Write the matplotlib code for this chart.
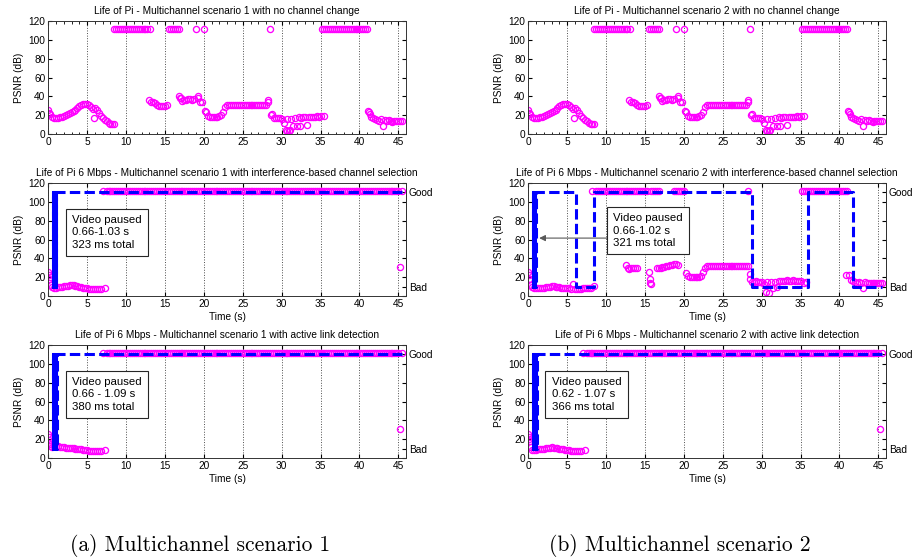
import matplotlib
matplotlib.use("Agg")
import matplotlib.pyplot as plt
import numpy as np

plt.rcParams["font.family"] = ["Liberation Sans", "DejaVu Sans"]
plt.rcParams["font.size"] = 7.3

STEP = 0.25  # spacing of the PSNR samples below, seconds

# PSNR (dB) every 0.25 s, no channel change (same trace in both scenarios)
psnr_no_change = [
    25, 21, 18, 17, 17, 17, 18, 18, 19, 20, 21, 22, 23, 24, 26, 28, 30, 31, 32, 32,
    32, 31, 29, 27, 28, 26, 22, 19, 17, 15, 14, 12, 11, 11, 111, 111, 111, 111, 111, 111,
    111, 111, 111, 111, 111, 111, 111, 111, 111, 111, 111, 111, 36, 34, 34, 33, 31, 30, 30, 30,
    30, 31, 111, 111, 111, 111, 111, 111, 38, 35, 36, 36, 37, 37, 36, 37, 111, 38, 34, 34,
    111, 23, 19, 18, 18, 18, 18, 18, 19, 20, 23, 29, 31, 31, 31, 31, 31, 31, 31, 31,
    31, 31, 31, 31, 31, 31, 31, 31, 31, 31, 31, 31, 31, 34, 111, 21, 17, 17, 17, 17,
    16, 12, 4, 16, 3, 16, 8, 17, 9, 18, 17, 18, 18, 10, 18, 18, 18, 18, 19, 18,
    19, 111, 111, 111, 111, 111, 111, 111, 111, 111, 111, 111, 111, 111, 111, 111, 111, 111, 111, 111,
    111, 111, 111, 111, 111, 23, 18, 17, 16, 15, 14, 16, 9, 15, 14, 15, 14, 13, 14, 14,
    14, 14, 14,
]
extra_no_change_t = [0.1, 5.9, 8.5, 13.1, 16.8, 16.9, 19.2, 20.2, 28.3, 28.6, 30.7, 31.1, 32.3, 35.5, 41.1, 41.3]
extra_no_change_v = [22, 17, 11, 111, 40, 38, 40, 24, 36, 20, 3, 4, 8, 19, 24, 21]

# scenario 1, interference-based channel selection
psnr_icsel_1 = [
    25, 20, 10, 9, 9, 10, 10, 10, 11, 11, 11, 12, 12, 12, 11, 11, 10, 10, 9, 9,
    8, 7, 7, 7, 7, 7, 7, 7, 111, 8, 111, 111, 111, 111, 111, 111, 111, 111, 111, 111,
    111, 111, 111, 111, 111, 111, 111, 111, 111, 111, 111, 111, 111, 111, 111, 111, 111, 111, 111, 111,
    111, 111, 111, 111, 111, 111, 111, 111, 111, 111, 111, 111, 111, 111, 111, 111, 111, 111, 111, 111,
    111, 111, 111, 111, 111, 111, 111, 111, 111, 111, 111, 111, 111, 111, 111, 111, 111, 111, 111, 111,
    111, 111, 111, 111, 111, 111, 111, 111, 111, 111, 111, 111, 111, 111, 111, 111, 111, 111, 111, 111,
    111, 111, 111, 111, 111, 111, 111, 111, 111, 111, 111, 111, 111, 111, 111, 111, 111, 111, 111, 111,
    111, 111, 111, 111, 111, 111, 111, 111, 111, 111, 111, 111, 111, 111, 111, 111, 111, 111, 111, 111,
    111, 111, 111, 111, 111, 111, 111, 111, 111, 111, 111, 111, 111, 111, 111, 111, 111, 111, 111, 111,
    111, 31, 111,
]
extra_icsel_1_t = [0.05, 0.15, 0.35]
extra_icsel_1_v = [22, 18, 12]

# scenario 1, active link detection
psnr_ald_1 = [
    25, 13, 12, 13, 13, 13, 12, 12, 12, 11, 11, 11, 11, 11, 10, 10, 10, 10, 9, 9,
    8, 7, 7, 7, 7, 7, 7, 7, 111, 8, 111, 111, 111, 111, 111, 111, 111, 111, 111, 111,
    111, 111, 111, 111, 111, 111, 111, 111, 111, 111, 111, 111, 111, 111, 111, 111, 111, 111, 111, 111,
    111, 111, 111, 111, 111, 111, 111, 111, 111, 111, 111, 111, 111, 111, 111, 111, 111, 111, 111, 111,
    111, 111, 111, 111, 111, 111, 111, 111, 111, 111, 111, 111, 111, 111, 111, 111, 111, 111, 111, 111,
    111, 111, 111, 111, 111, 111, 111, 111, 111, 111, 111, 111, 111, 111, 111, 111, 111, 111, 111, 111,
    111, 111, 111, 111, 111, 111, 111, 111, 111, 111, 111, 111, 111, 111, 111, 111, 111, 111, 111, 111,
    111, 111, 111, 111, 111, 111, 111, 111, 111, 111, 111, 111, 111, 111, 111, 111, 111, 111, 111, 111,
    111, 111, 111, 111, 111, 111, 111, 111, 111, 111, 111, 111, 111, 111, 111, 111, 111, 111, 111, 111,
    111, 31, 111,
]
extra_ald_1_t = [0.05, 0.15, 0.3]
extra_ald_1_v = [22, 19, 15]

# scenario 2, interference-based channel selection
psnr_icsel_2 = [
    25, 18, 10, 9, 9, 9, 9, 9, 9, 10, 10, 10, 11, 11, 10, 10, 10, 9, 9, 9,
    8, 8, 7, 13, 7, 7, 7, 7, 8, 8, 8, 8, 9, 111, 11, 111, 111, 111, 111, 111,
    111, 111, 111, 111, 111, 111, 111, 111, 111, 111, 111, 111, 111, 111, 111, 111, 111, 111, 111, 111,
    111, 111, 25, 111, 111, 111, 111, 111, 30, 31, 31, 32, 32, 33, 33, 111, 111, 111, 111, 111,
    111, 24, 21, 20, 20, 20, 20, 20, 20, 21, 25, 30, 32, 32, 32, 32, 32, 32, 32, 32,
    32, 32, 32, 32, 32, 32, 32, 32, 32, 32, 32, 32, 32, 111, 23, 15, 15, 16, 15, 15,
    15, 13, 4, 15, 3, 15, 8, 15, 10, 16, 16, 16, 16, 17, 16, 16, 17, 16, 16, 16,
    16, 111, 111, 111, 111, 111, 111, 111, 111, 111, 111, 111, 111, 111, 111, 111, 111, 111, 111, 111,
    111, 111, 111, 111, 111, 22, 17, 16, 15, 14, 15, 14, 8, 15, 14, 14, 14, 14, 14, 14,
    14, 14, 14,
]
extra_icsel_2_t = [0.05, 0.15, 0.35, 12.6, 12.8, 13.0, 13.25, 13.5, 13.75, 14.0, 15.6, 15.7, 15.8,
                   16.5, 16.75, 18.75, 19.0, 19.25, 28.3, 28.5, 35.5, 35.75, 40.9]
extra_icsel_2_v = [22, 18, 12, 33, 30, 29, 30, 30, 30, 30, 18, 14, 13,
                   30, 30, 34, 34, 33, 32, 18, 14, 15, 22]

# scenario 2, active link detection
psnr_ald_2 = [
    25, 18, 9, 9, 9, 10, 10, 10, 10, 11, 11, 11, 12, 11, 11, 11, 10, 10, 10, 9,
    8, 8, 7, 7, 7, 7, 7, 7, 111, 8, 111, 111, 111, 111, 111, 111, 111, 111, 111, 111,
    111, 111, 111, 111, 111, 111, 111, 111, 111, 111, 111, 111, 111, 111, 111, 111, 111, 111, 111, 111,
    111, 111, 111, 111, 111, 111, 111, 111, 111, 111, 111, 111, 111, 111, 111, 111, 111, 111, 111, 111,
    111, 111, 111, 111, 111, 111, 111, 111, 111, 111, 111, 111, 111, 111, 111, 111, 111, 111, 111, 111,
    111, 111, 111, 111, 111, 111, 111, 111, 111, 111, 111, 111, 111, 111, 111, 111, 111, 111, 111, 111,
    111, 111, 111, 111, 111, 111, 111, 111, 111, 111, 111, 111, 111, 111, 111, 111, 111, 111, 111, 111,
    111, 111, 111, 111, 111, 111, 111, 111, 111, 111, 111, 111, 111, 111, 111, 111, 111, 111, 111, 111,
    111, 111, 111, 111, 111, 111, 111, 111, 111, 111, 111, 111, 111, 111, 111, 111, 111, 111, 111, 111,
    111, 31, 111,
]
extra_ald_2_t = [0.05, 0.15, 0.35]
extra_ald_2_v = [22, 20, 12]

# link state (Good = 110, Bad = 10), step changes at these times
link_icsel_1_t = [0.45, 0.56, 0.62, 0.68, 0.76, 0.84, 0.9, 0.96, 1.03, 45.5]
link_icsel_1_v = [110, 10, 110, 10, 110, 10, 110, 10, 110, 110]
link_ald_1_t = [0.45, 0.56, 0.63, 0.7, 0.78, 0.86, 0.94, 1.01, 1.09, 45.5]
link_ald_1_v = [110, 10, 110, 10, 110, 10, 110, 10, 110, 110]
link_icsel_2_t = [0.45, 0.56, 0.64, 0.72, 0.8, 0.9, 1.02, 6.15, 8.5, 28.8, 35.9, 41.7, 45.5]
link_icsel_2_v = [110, 10, 110, 10, 110, 10, 110, 10, 110, 10, 110, 10, 10]
link_ald_2_t = [0.45, 0.55, 0.62, 0.7, 0.78, 0.86, 0.94, 1.0, 1.07, 45.5]
link_ald_2_v = [110, 10, 110, 10, 110, 10, 110, 10, 110, 110]

MAGENTA = "#ff00ff"
BLUE = "#0000ff"


def style_axes(ax, minor=False):
    ax.set_xlim(0, 46)
    ax.set_ylim(0, 120)
    ax.set_xticks(np.arange(0, 46, 5))
    ax.set_yticks(np.arange(0, 121, 20))
    if minor:
        ax.set_xticks(np.arange(0, 46, 1), minor=True)
    ax.tick_params(which="both", direction="in", top=True, right=True, pad=2)
    ax.tick_params(which="major", length=3)
    ax.tick_params(which="minor", length=1.8)
    ax.xaxis.grid(True, linestyle=":", color="0.3", linewidth=0.7)
    ax.set_ylabel("PSNR (dB)", labelpad=3)
    for sp in ax.spines.values():
        sp.set_linewidth(0.7)
        sp.set_color("0.2")


def plot_psnr(ax, values, extra_t, extra_v):
    t = np.arange(len(values)) * STEP
    kw = dict(linestyle="none", marker="o", markersize=4.4, markerfacecolor="none",
              markeredgecolor=MAGENTA, markeredgewidth=0.95)
    ax.plot(t, values, **kw)
    ax.plot(extra_t, extra_v, **kw)


def plot_link(ax, times, states):
    ax.step(times, states, where="post", color=BLUE, linewidth=2.2,
            linestyle=(0, (3.4, 1.4)))
    sec = ax.secondary_yaxis("right")
    sec.set_yticks([10, 110], labels=["Bad", "Good"])
    sec.tick_params(direction="in", length=3, pad=2)
    sec.spines["right"].set_linewidth(0.7)


def pause_box(ax, x, y, lines):
    ax.text(x, y, "\n".join(lines), ha="left", va="top", linespacing=1.3, fontsize=8.2,
            bbox=dict(boxstyle="square,pad=0.55", facecolor="white", edgecolor="0.15",
                      linewidth=0.8), zorder=5)


fig = plt.figure(figsize=(9.14, 5.59), dpi=100)
lefts = [0.0528, 0.578]
bottoms = [0.7603, 0.4705, 0.1807]
W, H = 0.3915, 0.2021

panels = [
    # column 1
    dict(col=0, row=0, title="Life of Pi - Multichannel scenario 1 with no channel change",
         psnr=psnr_no_change, et=extra_no_change_t, ev=extra_no_change_v),
    dict(col=0, row=1, title="Life of Pi 6 Mbps - Multichannel scenario 1 with interference-based channel selection",
         psnr=psnr_icsel_1, et=extra_icsel_1_t, ev=extra_icsel_1_v,
         link=(link_icsel_1_t, link_icsel_1_v),
         box=(3.1, 86, ["Video paused", "0.66-1.03 s", "323 ms total"])),
    dict(col=0, row=2, title="Life of Pi 6 Mbps - Multichannel scenario 1 with active link detection",
         psnr=psnr_ald_1, et=extra_ald_1_t, ev=extra_ald_1_v,
         link=(link_ald_1_t, link_ald_1_v),
         box=(3.1, 86, ["Video paused", "0.66 - 1.09 s", "380 ms total"])),
    # column 2
    dict(col=1, row=0, title="Life of Pi - Multichannel scenario 2 with no channel change",
         psnr=psnr_no_change, et=extra_no_change_t, ev=extra_no_change_v),
    dict(col=1, row=1, title="Life of Pi 6 Mbps - Multichannel scenario 2 with interference-based channel selection",
         psnr=psnr_icsel_2, et=extra_icsel_2_t, ev=extra_icsel_2_v,
         link=(link_icsel_2_t, link_icsel_2_v),
         box=(10.9, 88, ["Video paused", "0.66-1.02 s", "321 ms total"]), arrow=True),
    dict(col=1, row=2, title="Life of Pi 6 Mbps - Multichannel scenario 2 with active link detection",
         psnr=psnr_ald_2, et=extra_ald_2_t, ev=extra_ald_2_v,
         link=(link_ald_2_t, link_ald_2_v),
         box=(3.0, 86, ["Video paused", "0.62 - 1.07 s", "366 ms total"])),
]

for p in panels:
    ax = fig.add_axes([lefts[p["col"]], bottoms[p["row"]], W, H])
    style_axes(ax, minor=(p["row"] == 0))
    ax.set_title(p["title"], fontsize=7.3, pad=5)
    plot_psnr(ax, p["psnr"], p["et"], p["ev"])
    if "link" in p:
        plot_link(ax, *p["link"])
        ax.set_xlabel("Time (s)", labelpad=2)
    if "box" in p:
        pause_box(ax, *p["box"])
    if p.get("arrow"):
        ax.annotate("", xy=(1.4, 61.5), xytext=(10.2, 61.5),
                    arrowprops=dict(arrowstyle="-|>", color="0.35", lw=0.8,
                                    mutation_scale=9, shrinkA=0, shrinkB=0))

fig.text(0.219, 0.025, "(a) Multichannel scenario 1", ha="center", va="center",
         family="cmr10", fontsize=15.5)
fig.text(0.744, 0.025, "(b) Multichannel scenario 2", ha="center", va="center",
         family="cmr10", fontsize=15.5)

fig.savefig("out.png", dpi=100)
